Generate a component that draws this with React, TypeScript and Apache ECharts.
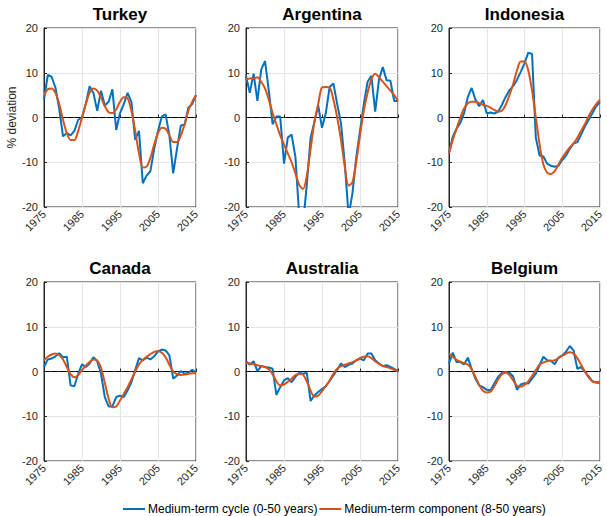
import React, { useEffect, useRef } from "react";
import * as echarts from "echarts";

const years: string[] = [];
for (let y = 1975; y <= 2015; y++) years.push(String(y));

const countries = ["Turkey", "Argentina", "Indonesia", "Canada", "Australia", "Belgium"];

const turkeyCycle = [4, 9.5, 9.1, 6.7, 2, -4.2, -3.5, -4, -3, -0.5, 0, 3, 7, 5.5, 1.5, 6, 2.7, 3.5, 6.3, -2.8, 1, 3, 5.5, 3.5, -5, -3, -14.7, -13, -12, -7, -3, 0.2, 0.7, -4, -12.5, -7, -1.8, -1.6, 2.2, 3, 5];
const turkeyComp = [5, 6.3, 6.5, 5.5, 3, -0.5, -3.5, -5, -5, -3, 0, 3, 5.5, 6.5, 6, 4.5, 2.5, 1.2, 1, 1.8, 3.5, 4.5, 4.3, 1.5, -3, -8, -11.2, -11, -9, -6, -3.5, -2.3, -2.5, -4, -5.5, -5.5, -4, -1.5, 1.5, 3.5, 5];

const argentinaCycle = [9.3, 5.5, 9.8, 3.7, 10.7, 12.6, 6, -1.5, 0.2, 0.2, -10.3, -4.5, -3.8, -8.8, -22, -24, -15, -4.5, -1, 2.7, -2.3, 1, 6.8, 7.6, 3, -1.3, -10.3, -22, -17, -9, -3, 3, 8, 9.3, 1.3, 8.5, 11.3, 8.3, 8.2, 3.7, 3.7];
const argentinaComp = [8.5, 8.7, 8.7, 9, 8, 6.5, 4, 1, -1.5, -4, -6, -8, -10, -12.5, -15, -16, -13, -7, -1, 3, 6.7, 6.8, 6.7, 4, 0, -5, -11, -15.2, -14.5, -10, -4, 1.5, 5.5, 8.5, 9.8, 9, 8, 7, 6, 5, 3.7];

const indonesiaCycle = [-8, -4.3, -2.5, -1.2, 1, 4.6, 6.6, 4, 2.5, 3.9, 0.9, 1.1, 0.9, 1.3, 2.8, 4.6, 6.1, 7, 8.4, 10.2, 12.1, 14.5, 14.2, -4.5, -8.5, -8.7, -10.3, -10.8, -11, -10.8, -9.5, -8.5, -7, -5.8, -5.5, -3.8, -2, -0.5, 1, 2.5, 3.5];
const indonesiaComp = [-8, -5, -2.5, 0, 2, 3.2, 3.5, 3.5, 3.2, 2.8, 2.6, 2.2, 1.7, 1.3, 1.5, 2.8, 5, 7.5, 10.5, 12.5, 12.5, 10.5, 6, 0, -6, -10.5, -12.3, -12.6, -12, -10.5, -9, -7.8, -6.7, -5.8, -4.5, -3, -1.5, 0.3, 1.8, 3, 4];

const canadaCycle = [1, 2.7, 2.9, 3.4, 4.1, 3.2, 3.3, -3.1, -3.3, -0.5, 1.6, 1, 1.8, 3.2, 2.3, -0.5, -5.7, -7.8, -7.8, -5.7, -5.4, -5.7, -4.2, -2.4, 0.3, 3, 2.5, 3.1, 2.7, 3.4, 4.5, 4.9, 4.7, 3.6, -1.6, -0.9, 0.1, -0.5, -0.3, 0.4, -0.3];
const canadaComp = [2.5, 3.3, 3.8, 4, 3.7, 2.7, 1, -0.6, -1.3, -0.8, 0.3, 1.3, 2.1, 2.7, 2.5, 0.8, -2.5, -6, -8, -7.8, -6.5, -5, -3.5, -1.8, 0, 1.6, 2.6, 3.3, 3.9, 4.4, 4.6, 4.2, 3.2, 1.5, 0, -0.6, -0.8, -0.7, -0.5, -0.4, -0.4];

const australiaCycle = [2.3, 1.5, 2.3, 0.1, 1.2, 1, 0.9, 0.6, -5.2, -3.5, -2, -1.5, -2.4, -1.2, -0.3, -0.5, -0.3, -6.6, -5.3, -4.6, -3.9, -3.3, -2.1, -0.9, 0.4, 1.8, 1, 1.5, 1.8, 2.5, 2.9, 2.5, 4, 4, 2.5, 1.8, 1.2, 1.4, 1, 0.6, 0.1];
const australiaComp = [2, 1.8, 1.6, 1.4, 1.2, 1, 0.5, -0.6, -2.2, -3.1, -2.9, -2.3, -1.6, -0.8, -0.5, -0.7, -2.2, -4.3, -5.6, -5.4, -4.4, -3.3, -2, -0.5, 0.6, 1.2, 1.5, 1.8, 2.1, 2.5, 3, 3.3, 3.4, 3, 2.3, 1.7, 1.2, 1, 0.7, 0.4, 0.1];

const belgiumCycle = [1.8, 4.2, 2.1, 2.1, 1.6, 3.1, 0.6, -1.6, -3.1, -3.5, -4.1, -4.2, -2.7, -1.2, -0.3, -0.1, -0.3, -1.1, -4.1, -2.9, -2.6, -2.7, -1.6, -0.5, 1.4, 3.3, 2.5, 2.4, 1.6, 3.1, 3.6, 4.4, 5.7, 4.7, 0.6, 1, -0.1, -1.1, -2.2, -2.4, -2.4];
const belgiumComp = [4, 3.3, 2.6, 2.2, 1.9, 1.5, 0.5, -1.2, -3, -4.3, -4.7, -4.5, -3.3, -1.8, -0.6, -0.2, -0.8, -2, -3.2, -3.4, -3, -2.2, -1, 0.3, 1.5, 2, 2.3, 2.4, 2.5, 3, 3.5, 4, 4.3, 4, 3, 1.5, 0, -1.3, -2.2, -2.5, -2.6];

const cycles = [turkeyCycle, argentinaCycle, indonesiaCycle, canadaCycle, australiaCycle, belgiumCycle];
const comps = [turkeyComp, argentinaComp, indonesiaComp, canadaComp, australiaComp, belgiumComp];

const CYCLE_NAME = "Medium-term cycle (0-50 years)";
const COMP_NAME = "Medium-term component (8-50 years)";

const grids = [
  { left: 44, top: 28, width: 152, height: 179 },
  { left: 246, top: 28, width: 152, height: 179 },
  { left: 449, top: 28, width: 151, height: 179 },
  { left: 44, top: 282, width: 152, height: 179 },
  { left: 246, top: 282, width: 152, height: 179 },
  { left: 449, top: 282, width: 151, height: 179 },
];

const FONT = "Liberation Sans, Arial, Helvetica, sans-serif";
const AXIS_COLOR = "#262626";

export default function App() {
  const ref = useRef<HTMLDivElement>(null);
  useEffect(() => {
    if (!ref.current) return;
    const chart = echarts.init(ref.current, undefined, { renderer: "svg" });
    const option: any = {
      animation: false,
      backgroundColor: "#ffffff",
      textStyle: { fontFamily: FONT },
      title: grids.map((g, i) => ({
        text: countries[i],
        left: g.left + g.width / 2,
        textAlign: "center",
        top: g.top - 22,
        padding: 0,
        textStyle: { fontFamily: FONT, fontSize: 17, fontWeight: "bold", color: "#000" },
      })),
      legend: {
        data: [CYCLE_NAME, COMP_NAME],
        left: 123,
        top: 503,
        padding: 0,
        icon: "rect",
        itemWidth: 22,
        itemHeight: 2,
        itemGap: 2,
        textStyle: { fontFamily: FONT, fontSize: 12, color: "#000", padding: [0, 0, 0, -2] },
      },
      grid: grids.map((g) => ({
        ...g,
        show: true,
        borderColor: AXIS_COLOR,
        borderWidth: 1,
        backgroundColor: "#fff",
        containLabel: false,
      })),
      xAxis: grids.map((_, i) => ({
        type: "category",
        gridIndex: i,
        data: years,
        boundaryGap: false,
        axisLine: { show: true, lineStyle: { color: AXIS_COLOR } },
        axisTick: { show: true, inside: true, length: 3, interval: 9, lineStyle: { color: AXIS_COLOR } },
        axisLabel: {
          interval: 9,
          rotate: 45,
          margin: 5,
          fontSize: 11,
          color: AXIS_COLOR,
          fontFamily: FONT,
        },
        splitLine: { show: true, interval: 9, lineStyle: { color: "#e4e4e4", width: 1 } },
      })),
      yAxis: grids.map((_, i) => ({
        type: "value",
        gridIndex: i,
        min: -20,
        max: 20,
        interval: 10,
        name: i === 0 ? "% deviation" : "",
        nameLocation: "middle",
        nameGap: 26,
        nameTextStyle: { fontFamily: FONT, fontSize: 12, color: AXIS_COLOR },
        axisLine: { show: true, lineStyle: { color: AXIS_COLOR } },
        axisTick: { show: true, inside: true, length: 3, lineStyle: { color: AXIS_COLOR } },
        axisLabel: { fontSize: 11, color: AXIS_COLOR, margin: 6, fontFamily: FONT },
        splitLine: { show: true, lineStyle: { color: "#e4e4e4", width: 1 } },
      })),
      series: grids.flatMap((_, i) => [
        {
          name: CYCLE_NAME,
          type: "line",
          xAxisIndex: i,
          yAxisIndex: i,
          data: cycles[i],
          showSymbol: false,
          symbol: "none",
          color: "#0072BD",
          lineStyle: { color: "#0072BD", width: 2 },
          clip: true,
          z: 3,
          markLine: {
            silent: true,
            symbol: "none",
            label: { show: false },
            lineStyle: { color: "#000", width: 1, type: [5, 3] },
            data: [{ yAxis: 0 }],
            z: 2,
          },
        },
        {
          name: COMP_NAME,
          type: "line",
          xAxisIndex: i,
          yAxisIndex: i,
          data: comps[i],
          showSymbol: false,
          symbol: "none",
          smooth: 0.3,
          color: "#D95319",
          lineStyle: { color: "#D95319", width: 2 },
          clip: true,
          z: 4,
        },
      ]),
    };
    chart.setOption(option);
    return () => chart.dispose();
  }, []);
  return (
    <div
      ref={ref}
      style={{ position: "fixed", left: 0, top: 0, width: 607, height: 516, background: "#fff" }}
    />
  );
}
